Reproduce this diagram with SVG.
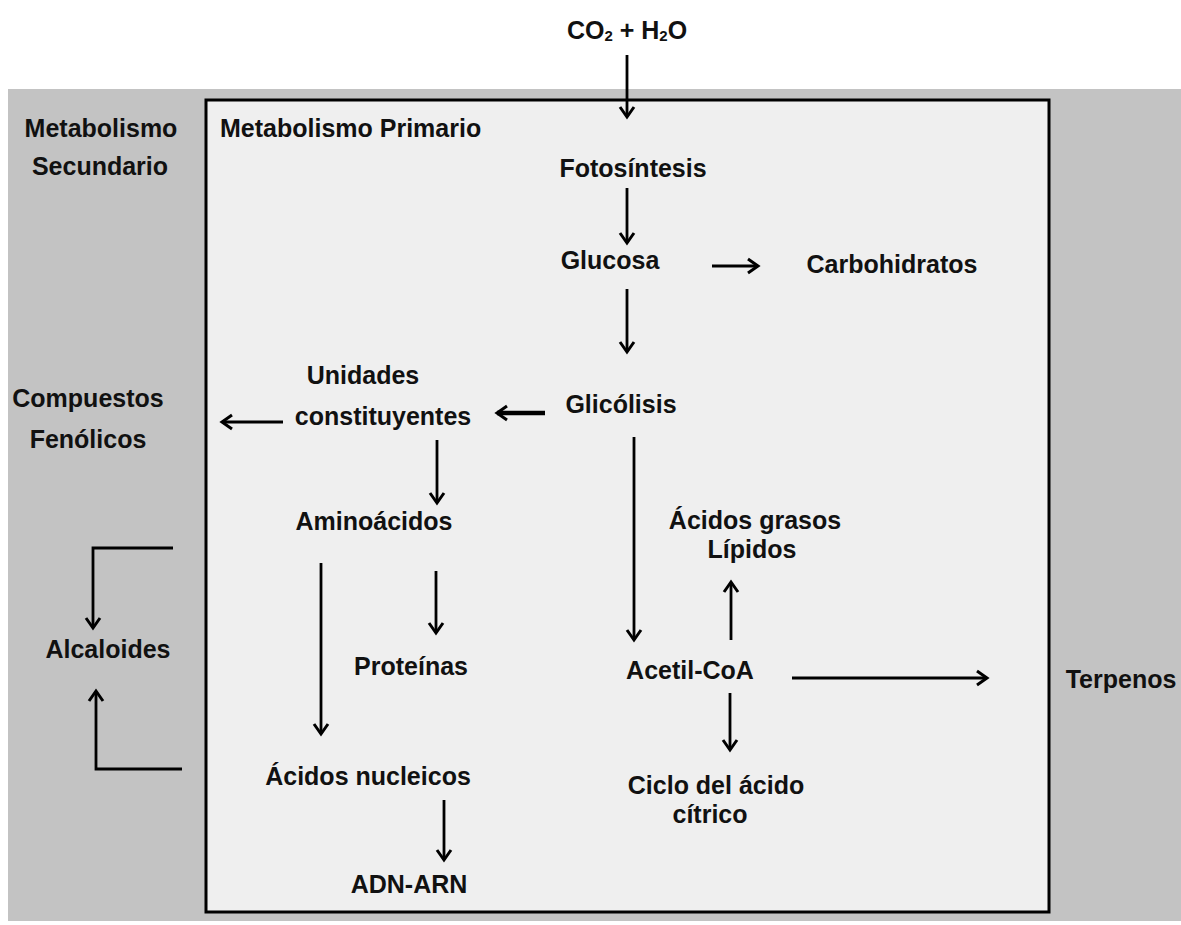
<svg xmlns="http://www.w3.org/2000/svg" width="1181" height="925" viewBox="0 0 1181 925">
<style>
text{font-family:"Liberation Sans",Arial,sans-serif;font-weight:bold;font-size:25px;fill:#111;text-anchor:middle}
.l{fill:none;stroke:#000;stroke-width:2.8}
.t{stroke-width:4.5}
</style>
<defs>
<marker id="a" markerUnits="userSpaceOnUse" markerWidth="18" markerHeight="18" viewBox="0 0 18 18" refX="15" refY="9" orient="auto">
<path d="M5,2 L15,9 L5,16" fill="none" stroke="#000" stroke-width="3"/>
</marker>
</defs>
<rect x="0" y="0" width="1181" height="925" fill="#fff"/>
<rect x="8" y="89" width="1173" height="832" fill="#c3c3c3"/>
<rect x="206" y="100" width="843" height="812" fill="#efefef" stroke="#000" stroke-width="3"/>
<g id="n-co2"><text x="627" y="39">CO<tspan font-size="15" dy="2">2</tspan><tspan dy="-2"> + H</tspan><tspan font-size="15" dy="2">2</tspan><tspan dy="-2">O</tspan></text></g>
<g id="n-secundario"><text x="101" y="137">Metabolismo</text><text x="100" y="175">Secundario</text></g>
<g id="n-primario"><text x="220" y="137" style="text-anchor:start">Metabolismo Primario</text></g>
<g id="n-fotosintesis"><text x="633" y="177">Fotosíntesis</text></g>
<g id="n-glucosa"><text x="610" y="269">Glucosa</text></g>
<g id="n-carbohidratos"><text x="892" y="273">Carbohidratos</text></g>
<g id="n-glicolisis"><text x="621" y="413">Glicólisis</text></g>
<g id="n-unidades"><text x="363" y="384">Unidades</text><text x="383" y="425">constituyentes</text></g>
<g id="n-fenolicos"><text x="88" y="407">Compuestos</text><text x="88" y="448">Fenólicos</text></g>
<g id="n-aminoacidos"><text x="374" y="530">Aminoácidos</text></g>
<g id="n-proteinas"><text x="411" y="675">Proteínas</text></g>
<g id="n-lipidos"><text x="755" y="529">Ácidos grasos</text><text x="752" y="558">Lípidos</text></g>
<g id="n-acetil"><text x="690" y="679">Acetil-CoA</text></g>
<g id="n-ciclo"><text x="716" y="794">Ciclo del ácido</text><text x="710" y="823">cítrico</text></g>
<g id="n-terpenos"><text x="1121" y="688">Terpenos</text></g>
<g id="n-alcaloides"><text x="108" y="658">Alcaloides</text></g>
<g id="n-nucleicos"><text x="368" y="785">Ácidos nucleicos</text></g>
<g id="n-adn"><text x="409" y="893">ADN-ARN</text></g>
<g id="connectors">
<path class="l" d="M627,55 V117" marker-end="url(#a)"/>
<path class="l" d="M627,188 V243" marker-end="url(#a)"/>
<path class="l" d="M712,266 H758" stroke-width="3.2" marker-end="url(#a)"/>
<path class="l" d="M627,289 V352" marker-end="url(#a)"/>
<path class="l t" d="M545,413 H497" marker-end="url(#a)"/>
<path class="l" d="M283,422 H222" marker-end="url(#a)"/>
<path class="l" d="M437,440 V503" marker-end="url(#a)"/>
<path class="l" d="M321,563 V734" marker-end="url(#a)"/>
<path class="l" d="M436,571 V633" marker-end="url(#a)"/>
<path class="l" d="M444,800 V860" marker-end="url(#a)"/>
<path class="l" d="M634,437 V640" marker-end="url(#a)"/>
<path class="l" d="M731,640 V582" marker-end="url(#a)"/>
<path class="l" d="M792,678 H987" stroke-width="3.2" marker-end="url(#a)"/>
<path class="l" d="M730,693 V750" marker-end="url(#a)"/>
<path class="l" d="M173,548 H93 V628" stroke-width="2.2" marker-end="url(#a)"/>
<path class="l" d="M182,769 H96 V691" stroke-width="2.2" marker-end="url(#a)"/>
</g>
</svg>
